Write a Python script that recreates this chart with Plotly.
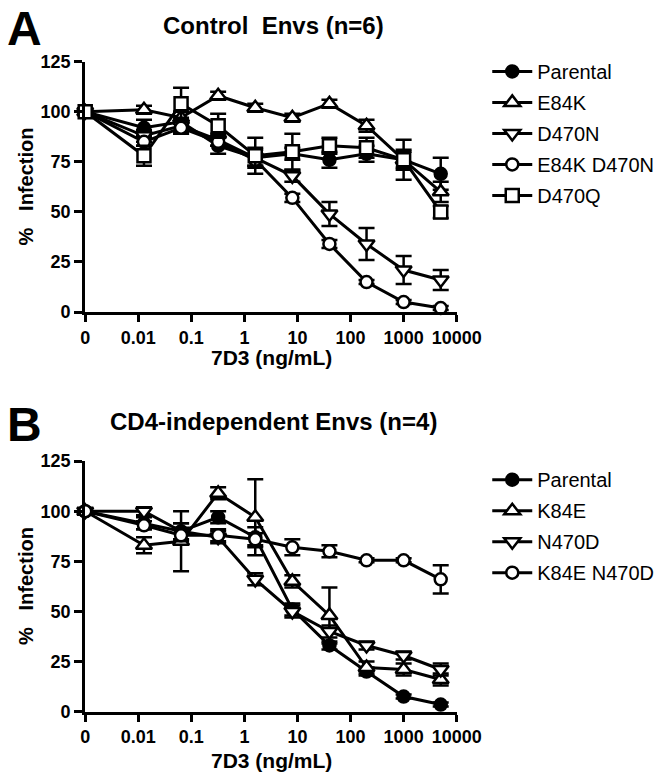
import plotly.graph_objects as go

# ---------------- data ----------------
conc = [0, 0.0128, 0.064, 0.32, 1.6, 8, 40, 200, 1000, 5000]  # 7D3 ng/mL
ZERO_POS = 1e-3  # where "0" sits on the log axis

tick_vals = [1e-3, 0.01, 0.1, 1, 10, 100, 1000, 10000]
tick_text = ["0", "0.01", "0.1", "1", "10", "100", "1000", "10000"]

# Panel A: Control Envs (n=6)
a_names = ["Parental", "E84K", "D470N", "E84K D470N", "D470Q"]
a_parental = [100, 92, 95, 83, 77, 79, 76, 79, 76, 69]
a_e84k = [100, 101, 97, 108, 102, 97, 104, 93, 76, 60]
a_d470n = [100, 88, 93, 86, 77, 68, 49, 34, 21, 16]
a_e84k_d470n = [100, 85, 92, 85, 76, 57, 34, 15, 5, 2]
a_d470q = [100, 78, 104, 93, 78, 80, 83, 82, 76, 50]
a_parental_err = [0, 4, 5, 4, 5, 3, 4, 4, 5, 8]
a_e84k_err = [0, 2, 3, 2, 2, 2, 2, 3, 4, 5]
a_d470n_err = [0, 3, 4, 3, 4, 3, 6, 8, 7, 5]
a_e84k_d470n_err = [0, 2, 3, 2, 3, 2, 2, 1, 1, 1]
a_d470q_err = [0, 5, 8, 6, 9, 9, 4, 5, 10, 3]

# Panel B: CD4-independent Envs (n=4)
b_names = ["Parental", "K84E", "N470D", "K84E N470D"]
b_parental = [100, 94, 90, 97, 87, 51, 33, 20, 7.5, 3.5]
b_k84e = [100, 83, 85, 109, 97, 65, 48, 22, 21, 16]
b_n470d = [100, 100, 90, 87, 66, 50, 40, 33, 28, 21]
b_k84e_n470d = [100, 93, 88, 88, 86, 82, 80, 75.5, 75.5, 66]
b_parental_err = [0, 3, 4, 3, 5, 3, 2, 2, 1, 1]
b_k84e_err = [0, 4, 15, 3, 19, 3, 14, 3, 3, 3]
b_n470d_err = [0, 2, 4, 3, 3, 3, 3, 2, 2, 3]
b_k84e_n470d_err = [0, 2, 3, 3, 3, 4, 3, 1, 1, 7]

# ---------------- style ----------------
FONT = "Arial, Liberation Sans, sans-serif"
W, H = 666, 782
styles = {
    "circle": dict(symbol="circle", color="black", size=12),
    "up": dict(symbol="triangle-up", color="white", size=14),
    "down": dict(symbol="triangle-down", color="white", size=14),
    "ocircle": dict(symbol="circle", color="white", size=12),
    "square": dict(symbol="square", color="white", size=13),
}

xplot = [c if c > 0 else ZERO_POS for c in conc]

fig = go.Figure()


def add_series(name, y, err, style, xa, ya, legend):
    st = styles[style]
    fig.add_trace(go.Scatter(
        x=xplot, y=y, name=name, mode="lines+markers",
        xaxis=xa, yaxis=ya, legend=legend, legendgroup=legend + name,
        line=dict(color="black", width=3),
        marker=dict(symbol=st["symbol"], size=st["size"], color=st["color"],
                    line=dict(color="black", width=2.5)),
        error_y=dict(type="data", array=err, color="black", thickness=2.5, width=8),
        cliponaxis=False,
    ))


a_series = [a_parental, a_e84k, a_d470n, a_e84k_d470n, a_d470q]
a_errs = [a_parental_err, a_e84k_err, a_d470n_err, a_e84k_d470n_err, a_d470q_err]
a_styles = ["circle", "up", "down", "ocircle", "square"]
for n, y, e, s in zip(a_names, a_series, a_errs, a_styles):
    add_series(n, y, e, s, "x", "y", "legend")

b_series = [b_parental, b_k84e, b_n470d, b_k84e_n470d]
b_errs = [b_parental_err, b_k84e_err, b_n470d_err, b_k84e_n470d_err]
b_styles = ["circle", "up", "down", "ocircle"]
for n, y, e, s in zip(b_names, b_series, b_errs, b_styles):
    add_series(n, y, e, s, "x2", "y2", "legend2")

# pixel layout
x0, x1 = 84, 473
ya_top, ya_bot = 53, 310
yb_top, yb_bot = 463, 720

xdom = [x0 / W, x1 / W]
xax = dict(type="log", range=[-3, 4], tickvals=tick_vals, ticktext=tick_text,
           showline=True, linewidth=3, linecolor="black", ticks="outside",
           ticklen=7, tickwidth=3, tickcolor="black", showgrid=False,
           zeroline=False, domain=xdom,
           tickfont=dict(family=FONT, size=18, color="black", weight="bold"))
yax = dict(range=[0, 125], tickvals=[0, 25, 50, 75, 100, 125],
           showline=True, linewidth=3, linecolor="black", ticks="outside",
           ticklen=8, tickwidth=3, tickcolor="black", showgrid=False,
           zeroline=False,
           tickfont=dict(family=FONT, size=18, color="black", weight="bold"))

legend_common = dict(xanchor="left", yanchor="top", itemwidth=40,
                     font=dict(family=FONT, size=20, color="black"),
                     tracegroupgap=2, bgcolor="rgba(0,0,0,0)")

fig.update_layout(
    width=W, height=H, margin=dict(l=0, r=0, t=0, b=0),
    paper_bgcolor="white", plot_bgcolor="white",
    xaxis=dict(xax, anchor="y"),
    yaxis=dict(yax, anchor="x", domain=[1 - ya_bot / H, 1 - ya_top / H]),
    xaxis2=dict(xax, anchor="y2"),
    yaxis2=dict(yax, anchor="x2", domain=[1 - yb_bot / H, 1 - yb_top / H]),
    legend=dict(legend_common, x=505 / W, y=1 - 43 / H),
    legend2=dict(legend_common, x=505 / W, y=1 - 462 / H),
    showlegend=True,
)

bold = dict(family=FONT, color="black", weight="bold")
ann = [
    dict(text="A", x=0 / W, y=1 - 19 / H, font=dict(bold, size=48), xanchor="left"),
    dict(text="B", x=0 / W, y=1 - 425 / H, font=dict(bold, size=48), xanchor="left"),
    dict(text="Control\u00a0\u00a0Envs (n=6)", x=281 / W, y=1 - 16 / H, font=dict(bold, size=24)),
    dict(text="CD4-independent Envs (n=4)", x=281 / W, y=1 - 422 / H, font=dict(bold, size=24)),
    dict(text="%\u00a0\u00a0\u00a0Infection", x=22 / W, y=1 - 181 / H, textangle=-90, font=dict(bold, size=20)),
    dict(text="%\u00a0\u00a0\u00a0Infection", x=22 / W, y=1 - 591 / H, textangle=-90, font=dict(bold, size=20)),
    dict(text="7D3 (ng/mL)", x=279 / W, y=1 - 357 / H, font=dict(bold, size=21)),
    dict(text="7D3 (ng/mL)", x=279 / W, y=1 - 770 / H, font=dict(bold, size=21)),
]
for a in ann:
    a.setdefault("xanchor", "center")
    fig.add_annotation(xref="paper", yref="paper", showarrow=False, yanchor="middle", **a)

fig.write_html("out.html", config={"displayModeBar": False},
               post_script="document.body.style.margin='0';")
